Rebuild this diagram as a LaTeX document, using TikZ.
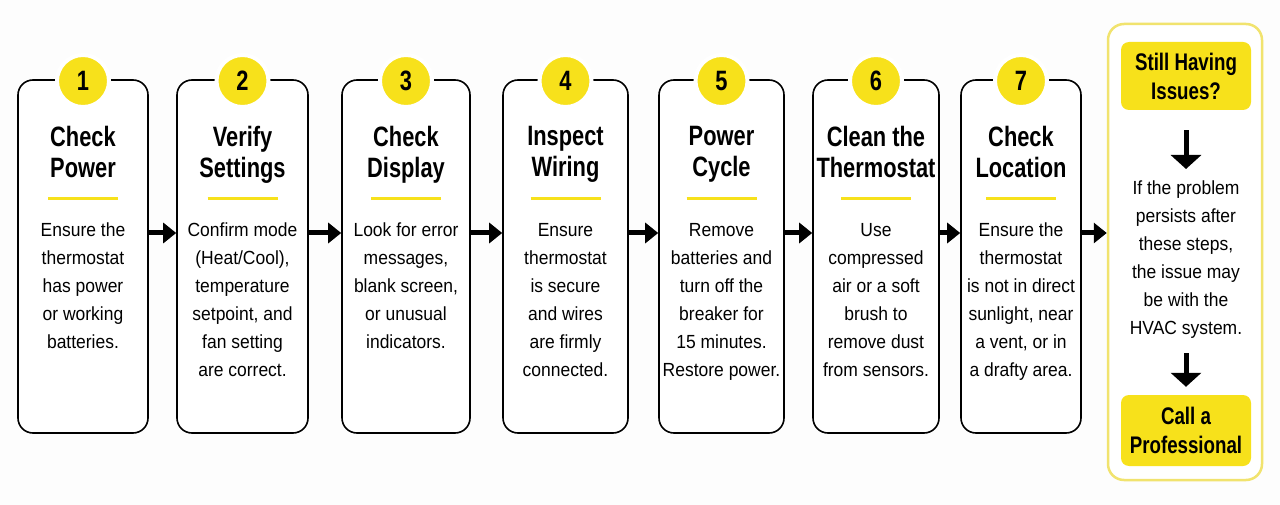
\documentclass[tikz,border=0pt]{standalone}
\usepackage{fontspec}
\setmainfont[FakeStretch=0.92]{Liberation Sans}
\newfontfamily\titlefont[FakeStretch=0.78]{Liberation Sans}
\usetikzlibrary{arrows.meta}
\definecolor{ylw}{HTML}{F7E11B}
\definecolor{ylwline}{HTML}{F1E36E}
\definecolor{bg}{HTML}{FDFDFD}
\begin{document}
\begin{tikzpicture}[x=1pt,y=-1pt,
  stepbox/.style={draw=black,line width=1.6pt,rounded corners=15pt,fill=white,minimum height=353pt,inner sep=0pt},
  numcirc/.style={circle,fill=ylw,draw=white,line width=4pt,minimum size=52pt,inner sep=0pt,font=\titlefont\bfseries\fontsize{28}{28}\selectfont},
  steptitle/.style={anchor=north,inner sep=0pt,align=center,font=\titlefont\bfseries\fontsize{28}{31}\selectfont},
  stepbody/.style={anchor=north,inner sep=0pt,align=center,font=\fontsize{19}{28}\selectfont},
  uline/.style={draw=ylw,line width=3pt},
  bigarrow/.style={line width=5pt,-{Triangle[length=13pt,width=20pt]}},
  downarrow/.style={line width=5pt,-{Triangle[length=14pt,width=30pt]}},
  ybox/.style={fill=ylw,rounded corners=8pt,minimum width=130pt,inner sep=0pt,align=center,font=\titlefont\bfseries\fontsize{24}{29}\selectfont}
]
\useasboundingbox (0,0) rectangle (1280,505);
\fill[bg] (0,0) rectangle (1280,505);

% step boxes
\foreach \i/\cx/\w in {1/83/130,2/242.5/131,3/406/128,4/565.5/125,5/721.5/125,6/876/126,7/1021/120}{
  \node[stepbox,minimum width=\w pt] (b\i) at (\cx,256.5) {};
  \node[numcirc] (n\i) at (\cx,81) {\i};
  \draw[uline] (\cx-35,199) -- (\cx+35,199);
}

\node[steptitle] (t1) at (83,126) {Check\\Power};
\node[steptitle] (t2) at (242.5,126) {Verify\\Settings};
\node[steptitle] (t3) at (406,126) {Check\\Display};
\node[steptitle] (t4) at (565.5,126) {Inspect\\Wiring};
\node[steptitle] (t5) at (721.5,126) {Power\\Cycle};
\node[steptitle] (t6) at (876,126) {Clean the\\Thermostat};
\node[steptitle] (t7) at (1021,126) {Check\\Location};

\node[stepbody] (d1) at (83,223) {Ensure the\\thermostat\\has power\\or working\\batteries.};
\node[stepbody] (d2) at (242.5,223) {Confirm mode\\(Heat/Cool),\\temperature\\setpoint, and\\fan setting\\are correct.};
\node[stepbody] (d3) at (406,223) {Look for error\\messages,\\blank screen,\\or unusual\\indicators.};
\node[stepbody] (d4) at (565.5,223) {Ensure\\thermostat\\is secure\\and wires\\are firmly\\connected.};
\node[stepbody] (d5) at (721.5,223) {Remove\\batteries and\\turn off the\\breaker for\\15 minutes.\\Restore power.};
\node[stepbody] (d6) at (876,223) {Use\\compressed\\air or a soft\\brush to\\remove dust\\from sensors.};
\node[stepbody] (d7) at (1021,223) {Ensure the\\thermostat\\is not in direct\\sunlight, near\\a vent, or in\\a drafty area.};

% final panel
\node[draw=ylwline,line width=2.5pt,rounded corners=16pt,fill=white,minimum width=154pt,minimum height=456pt,inner sep=0pt] (fin) at (1185,252) {};
\node[ybox,minimum height=68pt] (q) at (1186,76) {Still Having\\Issues?};
\node[stepbody] (info) at (1186,181) {If the problem\\persists after\\these steps,\\the issue may\\be with the\\HVAC system.};
\node[ybox,minimum height=71pt] (call) at (1186,430.5) {Call a\\Professional};

% connectors
\foreach \a/\b in {b1/b2,b2/b3,b3/b4,b4/b5,b5/b6,b6/b7}{
  \draw[bigarrow] ([yshift=23.5pt]\a.east) -- ([yshift=23.5pt]\b.west);
}
\draw[bigarrow] ([yshift=23.5pt]b7.east) -- (fin.west |- 0,233);
\draw[downarrow,shorten <=20pt,shorten >=12pt] (q.south) -- (info.north);
\draw[downarrow,shorten <=14pt,shorten >=8pt] (info.south) -- (call.north);
\end{tikzpicture}
\end{document}
